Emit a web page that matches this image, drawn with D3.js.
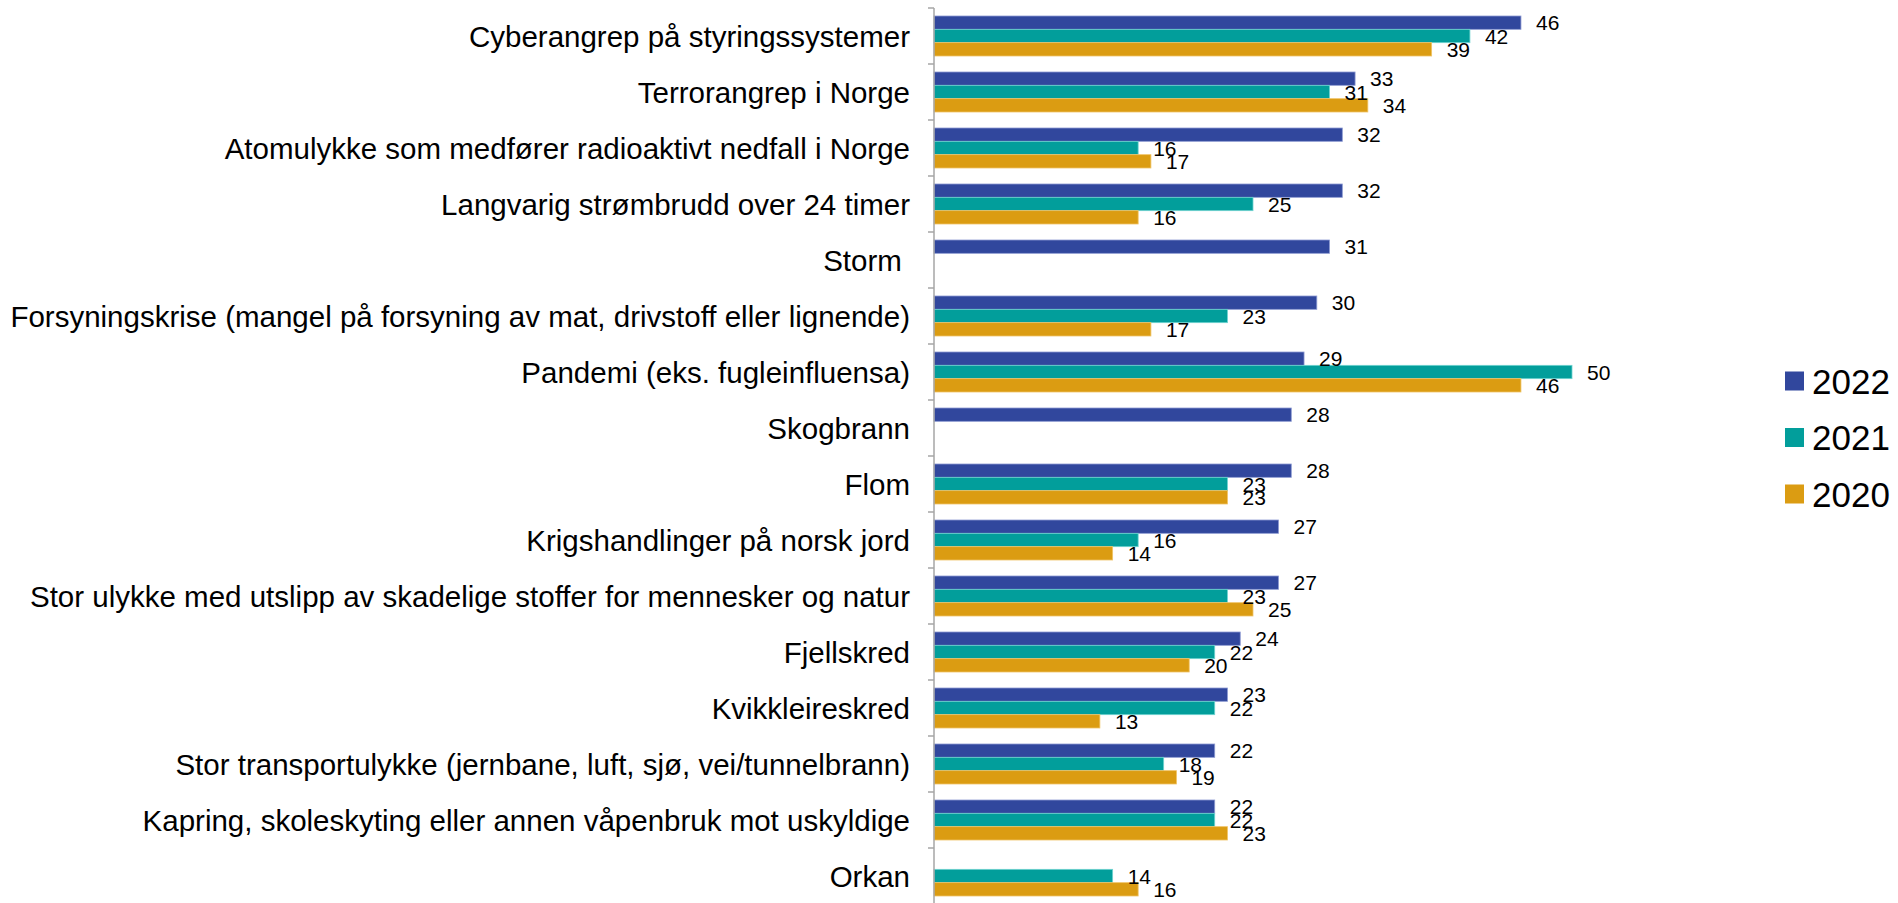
<!DOCTYPE html>
<html>
<head>
<meta charset="utf-8">
<script src="https://cdn.jsdelivr.net/npm/d3@7"></script>
<style>
	body{margin:0;background:#fff;}
	text{font-family:"Liberation Sans",Arial,sans-serif;fill:#000;}
</style>
</head>
<body>
<script>
var WIDTH = 1898,
	HEIGHT = 903

var margin = {top:8, left:934}

var categories = [
	"Cyberangrep på styringssystemer",
	"Terrorangrep i Norge",
	"Atomulykke som medfører radioaktivt nedfall i Norge",
	"Langvarig strømbrudd over 24 timer",
	"Storm ",
	"Forsyningskrise (mangel på forsyning av mat, drivstoff eller lignende)",
	"Pandemi (eks. fugleinfluensa)",
	"Skogbrann",
	"Flom",
	"Krigshandlinger på norsk jord",
	"Stor ulykke med utslipp av skadelige stoffer for mennesker og natur",
	"Fjellskred",
	"Kvikkleireskred",
	"Stor transportulykke (jernbane, luft, sjø, vei/tunnelbrann)",
	"Kapring, skoleskyting eller annen våpenbruk mot uskyldige",
	"Orkan"
]

var years = ["2022","2021","2020"]

var v2022 = [46,33,32,32,31,30,29,28,28,27,27,24,23,22,22,null]
var v2021 = [42,31,16,25,null,23,50,null,23,16,23,22,22,18,22,14]
var v2020 = [39,34,17,16,null,17,46,null,23,14,25,20,13,19,23,16]

var colors = ["#31479d","#029e9b","#db9c12"]
var strokes = ["#8d9ad2","#6fd3d0","#f0c466"]

var rows = categories.map(function(c,i){
	return {cat:c, vals:[v2022[i],v2021[i],v2020[i]]}
})

var svg = d3.select('body')
			.append('svg')
				.attr('width',WIDTH)
				.attr('height',HEIGHT)

var x = d3.scaleLinear().domain([0,50]).range([margin.left,1572])

var y = d3.scaleBand().domain(categories).range([margin.top,margin.top+56*16]).paddingInner(0)

var y1 = d3.scaleBand().domain(years).range([0,y.bandwidth()]).paddingInner(0).paddingOuter(0.6)

// bars
var groups = svg.append('g').selectAll('.grp').data(rows)
				.enter().append('g')
				.attr('transform',function(d){ return 'translate(0,'+y(d.cat)+')' })

function present(d){
	return d.vals.map(function(v,i){ return {year:years[i],v:v,i:i} }).filter(function(e){ return e.v!==null })
}

groups.selectAll('rect')
	.data(present)
	.enter().append('rect')
		.attr('x',x(0))
		.attr('y',function(d){ return y1(d.year) })
		.attr('width',function(d){ return x(d.v)-x(0) })
		.attr('height',y1.bandwidth())
		.attr('fill',function(d){ return colors[d.i] })
		.attr('stroke',function(d){ return strokes[d.i] })
		.attr('stroke-width',0.8)

groups.selectAll('.val')
	.data(present)
	.enter().append('text')
		.classed('val',true)
		.attr('x',function(d){ return x(d.v)+15 })
		.attr('y',function(d){ return y1(d.year)+y1.bandwidth()/2 })
		.attr('dy','0.36em')
		.style('font-size','21px')
		.text(function(d){ return d.v })

// axis
var axis = svg.append('g').attr('stroke','#a6a6a6').attr('stroke-width',1.5)
axis.append('line')
	.attr('x1',x(0)).attr('x2',x(0))
	.attr('y1',y.range()[0]).attr('y2',y.range()[1])
axis.selectAll('.tick').data(categories.concat(['end']))
	.enter().append('line')
		.attr('x1',x(0)-6).attr('x2',x(0))
		.attr('y1',function(d){ return d==='end' ? y.range()[1] : y(d) })
		.attr('y2',function(d){ return d==='end' ? y.range()[1] : y(d) })

svg.append('g').selectAll('.cat').data(categories)
	.enter().append('text')
		.attr('x',x(0)-24)
		.attr('y',function(d){ return y(d)+y.bandwidth()/2 })
		.attr('dy','0.36em')
		.attr('text-anchor','end')
		.style('font-size','29.5px')
		.style('white-space','pre')
		.text(function(d){ return d })

// legend
var legend = svg.append('g').selectAll('.leg').data(years)
				.enter().append('g')
				.attr('transform',function(d,i){ return 'translate(1785,'+(381+i*56.5)+')' })
legend.append('rect')
	.attr('x',0).attr('y',-9.5)
	.attr('width',19).attr('height',19)
	.attr('fill',function(d,i){ return colors[i] })
legend.append('text')
	.attr('x',27).attr('dy','0.36em')
	.style('font-size','35px')
	.text(function(d){ return d })
</script>
</body>
</html>
